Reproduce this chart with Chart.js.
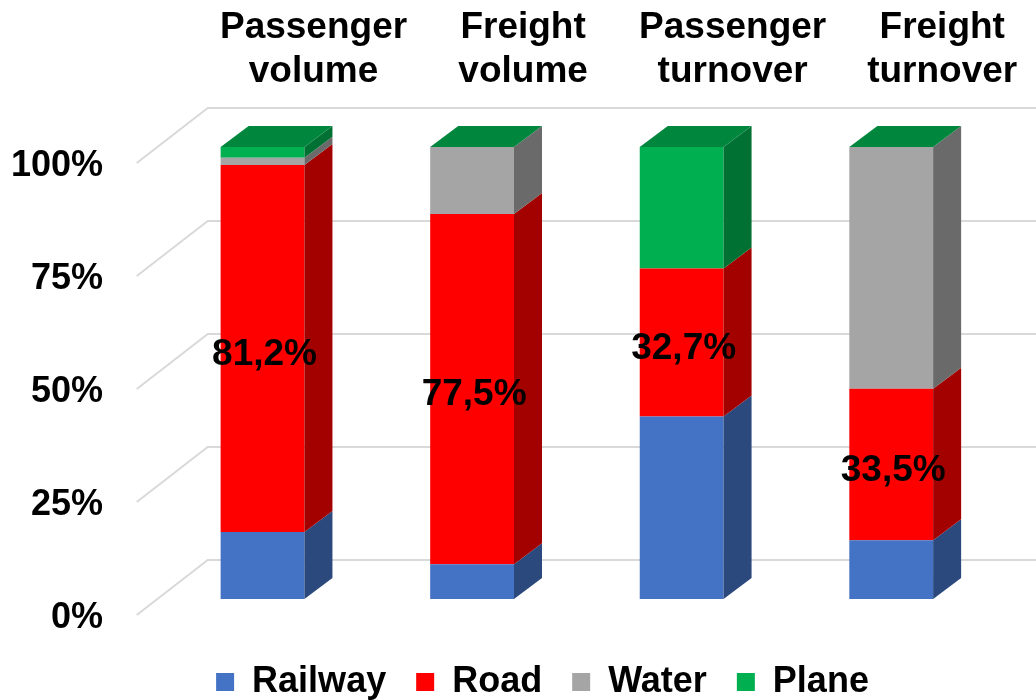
<!DOCTYPE html>
<html>
<head>
<meta charset="utf-8">
<title>Transport modes</title>
<script src="https://cdn.jsdelivr.net/npm/chart.js@4.4.1/dist/chart.umd.min.js"></script>
<style>
  html, body { margin: 0; padding: 0; background: #fff; }
  .chart-box { position: relative; width: 1036px; height: 700px; }
</style>
</head>
<body>
<div class="chart-box"><canvas id="modalChart"></canvas></div>
<script>
// --- Data (shares, %) ---
const categories = [['Passenger', 'volume'], ['Freight', 'volume'], ['Passenger', 'turnover'], ['Freight', 'turnover']];
const seriesNames = ['Railway', 'Road', 'Water', 'Plane'];
const railway = [14.8, 7.7, 40.4, 13.0];
const road = [81.2, 77.5, 32.7, 33.5];
const water = [1.6, 14.8, 0, 53.5];
const plane = [2.4, 0, 26.9, 0];
const yTicks = [0, 25, 50, 75, 100];

// front / right side / top face colours per series
const frontColors = ['#4472C4', '#FF0000', '#A5A5A5', '#00B050'];
const sideColors = ['#2B497D', '#A30000', '#6A6A6A', '#007133'];
const topColors = ['#3A62A8', '#D00000', '#8C8C8C', '#00863D'];

const DX = 28, DY = 21;   // bar depth offset
const WALL = { floorX: -21, floorY: 16, backX: 50, backY: -39 };
const LABEL_SERIES = 1;   // Road gets value labels
const FONT = "'Liberation Sans', Arial, sans-serif";

Chart.defaults.font.family = FONT;
Chart.defaults.color = '#000';

function poly(ctx, pts) {
  ctx.beginPath();
  ctx.moveTo(pts[0][0], pts[0][1]);
  for (let i = 1; i < pts.length; i++) ctx.lineTo(pts[i][0], pts[i][1]);
  ctx.closePath();
  ctx.fill();
}

// fake 3D: back wall gridlines, side + top faces, value labels
const box3d = {
  id: 'box3d',
  beforeDatasetsDraw(chart) {
    const { ctx, chartArea, scales: { y } } = chart;
    ctx.save();
    ctx.strokeStyle = '#d9d9d9';
    ctx.lineWidth = 2;
    yTicks.forEach(v => {
      const py = y.getPixelForValue(v);
      ctx.beginPath();
      ctx.moveTo(chartArea.left + WALL.floorX, py + WALL.floorY);
      ctx.lineTo(chartArea.left + WALL.backX, py + WALL.backY);
      ctx.lineTo(chart.width, py + WALL.backY);
      ctx.stroke();
    });
    ctx.restore();
  },
  afterDatasetsDraw(chart) {
    const { ctx } = chart;
    const last = chart.data.datasets.length - 1;
    ctx.save();
    chart.data.datasets.forEach((ds, di) => {
      chart.getDatasetMeta(di).data.forEach(bar => {
        const l = bar.x - bar.width / 2, r = bar.x + bar.width / 2;
        const top = Math.min(bar.y, bar.base), bot = Math.max(bar.y, bar.base);
        if (bot - top > 0.5) {
          ctx.fillStyle = sideColors[di];
          poly(ctx, [[r, top], [r + DX, top - DY], [r + DX, bot - DY], [r, bot]]);
        }
        if (di === last) {
          ctx.fillStyle = topColors[di];
          poly(ctx, [[l, top], [l + DX, top - DY], [r + DX, top - DY], [r, top]]);
        }
      });
    });

    ctx.font = 'bold 37px ' + FONT;
    ctx.fillStyle = '#000';
    ctx.textAlign = 'center';
    ctx.textBaseline = 'middle';
    const vals = chart.data.datasets[LABEL_SERIES].data;
    chart.getDatasetMeta(LABEL_SERIES).data.forEach((bar, i) => {
      const txt = vals[i].toFixed(1).replace('.', ',') + '%';
      ctx.fillText(txt, bar.x + 2, (bar.y + bar.base) / 2 + 6);
    });
    ctx.restore();
  }
};

const seriesData = [railway, road, water, plane];

new Chart(document.getElementById('modalChart'), {
  type: 'bar',
  data: {
    labels: categories,
    datasets: seriesNames.map((name, i) => ({
      label: name,
      data: seriesData[i],
      backgroundColor: frontColors[i],
      borderWidth: 0,
      barPercentage: 0.4,
      categoryPercentage: 1
    }))
  },
  options: {
    responsive: true,
    maintainAspectRatio: false,
    animation: false,
    layout: { padding: { left: 89, right: 40, top: 0, bottom: -10 } },
    plugins: {
      tooltip: { enabled: false },
      legend: {
        position: 'bottom',
        align: 'center',
        title: { display: true, text: '', font: { size: 10 }, padding: { top: 23, bottom: 0 } },
        labels: {
          boxWidth: 18,
          boxHeight: 18,
          padding: 30,
          color: '#000',
          font: { size: 36, weight: 'bold' }
        }
      }
    },
    scales: {
      x: {
        stacked: true,
        position: 'top',
        grid: { display: false, drawTicks: false },
        border: { display: false },
        ticks: {
          padding: 54,
          labelOffset: 51,
          autoSkip: false,
          maxRotation: 0,
          color: '#000',
          font: { size: 37, weight: 'bold', lineHeight: 1.17 }
        },
        afterFit: s => { s.height = 147; }
      },
      y: {
        stacked: true,
        min: 0,
        max: 100,
        grid: { display: false, drawTicks: false },
        border: { display: false },
        afterBuildTicks: s => { s.ticks = yTicks.map(v => ({ value: v })); },
        afterFit: s => { s.width = 68.75; },
        ticks: {
          // mirrored so the labels are not clipped to the narrow axis box
          mirror: true,
          crossAlign: 'far',
          padding: -146.8,
          labelOffset: 19,
          color: '#000',
          font: { size: 36, weight: 'bold' },
          callback: v => v + '%'
        }
      }
    }
  },
  plugins: [box3d]
});
</script>
</body>
</html>
